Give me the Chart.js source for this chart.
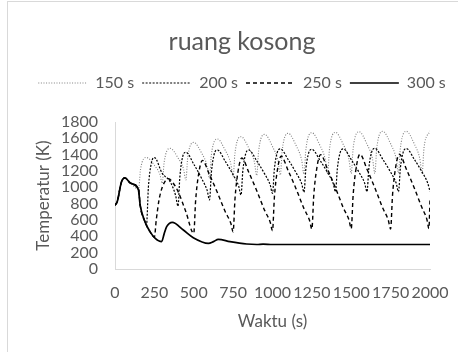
<!DOCTYPE html>
<html>
<head>
<meta charset="utf-8">
<script src="https://cdn.jsdelivr.net/npm/chart.js@4.4.1/dist/chart.umd.min.js"></script>
<style>
  body { margin: 0; background: #fff; }
  #wrap { position: relative; width: 458px; height: 352px; }
  #frame { position: absolute; left: 7px; top: 1px; right: 0; bottom: 0; border-left: 1px solid #d9d9d9; border-top: 1px solid #d9d9d9; }
  #myChart { position: absolute; left: 0; top: 0; }
</style>
</head>
<body>
<div id="wrap">
  <div id="frame"></div>
  <canvas id="myChart" width="458" height="352"></canvas>
</div>
<script>
// DATA (time in s, temperature in K)
const chartTitle = 'ruang kosong';
const seriesNames = ['150 s', '200 s', '250 s', '300 s'];
const xTicks = [0, 250, 500, 750, 1000, 1250, 1500, 1750, 2000];
const yTicks = [0, 200, 400, 600, 800, 1000, 1200, 1400, 1600, 1800];

const time150 = [0, 15, 40, 63, 100, 150, 162, 200, 250, 285, 300, 312, 350, 400, 435, 450,
  462, 500, 550, 585, 600, 612, 650, 700, 735, 750, 762, 800, 850, 885, 900,
  912, 950, 1000, 1035, 1050, 1062, 1100, 1150, 1185, 1200, 1212, 1250, 1300, 1335, 1350,
  1362, 1400, 1450, 1485, 1500, 1512, 1550, 1600, 1635, 1650, 1662, 1700, 1750, 1785, 1800,
  1812, 1850, 1900, 1935, 1950, 1962, 2000];
const temp150 = [780, 830, 1060, 1115, 1050, 975, 1220, 1365, 1270, 1160, 1050, 1306, 1477, 1361, 1225, 1090,
  1367, 1551, 1419, 1264, 1110, 1399, 1592, 1453, 1292, 1130, 1424, 1620, 1478, 1311, 1145,
  1447, 1649, 1499, 1325, 1150, 1457, 1661, 1511, 1335, 1160, 1465, 1669, 1518, 1341, 1165,
  1470, 1673, 1522, 1346, 1170, 1477, 1681, 1528, 1349, 1170, 1480, 1686, 1533, 1354, 1175,
  1482, 1686, 1533, 1354, 1175, 1484, 1690];

const time200 = [0, 15, 40, 63, 100, 150, 160, 190, 200, 212, 230, 250, 300, 350, 385, 400,
  412, 430, 450, 500, 550, 585, 600, 612, 630, 650, 700, 750, 785, 800,
  812, 830, 850, 900, 950, 985, 1000, 1012, 1030, 1050, 1100, 1150, 1185, 1200,
  1212, 1230, 1250, 1300, 1350, 1385, 1400, 1412, 1430, 1450, 1500, 1550, 1585, 1600,
  1612, 1630, 1650, 1700, 1750, 1785, 1800, 1812, 1830, 1850, 1900, 1950, 1985, 2000];
const temp200 = [780, 830, 1060, 1115, 1050, 975, 780, 580, 540, 1000, 1290, 1365, 1170, 1070, 900, 770,
  1133, 1377, 1430, 1284, 1108, 962, 845, 1182, 1408, 1457, 1319, 1154, 1016, 906,
  1209, 1413, 1457, 1324, 1165, 1032, 926, 1225, 1426, 1470, 1338, 1178, 1046, 940,
  1229, 1423, 1465, 1335, 1179, 1049, 945, 1234, 1428, 1470, 1339, 1182, 1052, 947,
  1239, 1435, 1477, 1344, 1185, 1053, 947, 1237, 1432, 1475, 1344, 1186, 1055, 950];

const time250 = [0, 15, 40, 63, 100, 150, 160, 190, 222, 250, 262, 280, 300, 320, 340, 370, 400, 450, 500,
  512, 530, 555, 600, 650, 700, 735, 750, 762, 780, 805, 850, 900, 950, 985, 1000,
  1012, 1030, 1055, 1100, 1150, 1200, 1235, 1250, 1262, 1280, 1305, 1350, 1400, 1450, 1485, 1500,
  1512, 1530, 1555, 1600, 1650, 1700, 1735, 1750, 1762, 1780, 1805, 1850, 1900, 1950, 1980, 1993, 2000];
const temp250 = [780, 830, 1060, 1115, 1050, 975, 780, 580, 457, 390, 600, 850, 1000, 1080, 1105, 1050, 950, 700, 437,
  839, 1151, 1330, 1155, 937, 701, 562, 457, 863, 1179, 1360, 1182, 959, 718, 576, 469,
  879, 1198, 1380, 1202, 980, 739, 597, 490, 900, 1218, 1400, 1219, 993, 748, 604, 495,
  905, 1223, 1405, 1222, 993, 746, 600, 490, 902, 1222, 1405, 1222, 993, 746, 610, 495, 850];

const time300 = [0, 15, 40, 63, 100, 148, 160, 190, 222, 254, 296, 312, 328, 364, 434, 497, 593, 625, 656, 730, 836, 900, 940, 1000, 1250, 1500, 1750, 2000];
const temp300 = [780, 830, 1060, 1115, 1050, 975, 780, 580, 457, 378, 335, 430, 518, 571, 477, 384, 314, 335, 363, 335, 306, 300, 305, 300, 300, 300, 300, 300];

function toPoints(ts, vs) {
    return ts.map(function (t, i) { return { x: t, y: vs[i] }; });
}

const textColor = '#595959';
const fontName = 'Lato';

// push the plot area down below the legend (legend itself stays put)
const legendGap = {
    id: 'legendGap',
    beforeInit: function (chart) {
        const origFit = chart.legend.fit;
        chart.legend.fit = function () {
            origFit.bind(chart.legend)();
            this.height += 21;
        };
    }
};

const myChart = new Chart(document.getElementById('myChart'), {
    type: 'line',
    data: {
        datasets: [{
            label: seriesNames[0],
            data: toPoints(time150, temp150),
            borderColor: '#808080',
            borderWidth: 1.1,
            borderDash: [1, 1.6],
            order: 4
        },
        {
            label: seriesNames[1],
            data: toPoints(time200, temp200),
            borderColor: '#000000',
            borderWidth: 1.2,
            borderDash: [2, 1.5],
            order: 3
        },
        {
            label: seriesNames[2],
            data: toPoints(time250, temp250),
            borderColor: '#000000',
            borderWidth: 1.4,
            borderDash: [4, 3],
            order: 2
        },
        {
            label: seriesNames[3],
            data: toPoints(time300, temp300),
            borderColor: '#000000',
            borderWidth: 1.7,
            order: 1
        }]
    },
    plugins: [legendGap],
    options: {
        responsive: false,
        animation: false,
        devicePixelRatio: 1,
        parsing: false,
        elements: {
            point: { radius: 0 },
            line: { cubicInterpolationMode: 'monotone', fill: false }
        },
        layout: {
            padding: { left: 26, right: 0, top: 0, bottom: 20 }
        },
        plugins: {
            title: {
                display: true,
                text: chartTitle,
                color: textColor,
                font: { family: fontName, size: 25, weight: 'normal' },
                padding: { top: 27, bottom: 10 }
            },
            legend: {
                display: true,
                labels: {
                    color: textColor,
                    font: { family: fontName, size: 16 },
                    usePointStyle: true,
                    pointStyle: 'line',
                    pointStyleWidth: 49,
                    boxWidth: 49,
                    padding: 8,
                    sort: function (a, b) { return a.datasetIndex - b.datasetIndex; },
                    generateLabels: function (chart) {
                        const items = Chart.defaults.plugins.legend.labels.generateLabels(chart);
                        items.forEach(function (item) {
                            const ds = chart.data.datasets[item.datasetIndex];
                            item.lineDash = ds.borderDash || [];
                            item.strokeStyle = ds.borderColor;
                            item.fillStyle = ds.borderColor;
                            item.lineWidth = ds.borderWidth;
                        });
                        return items;
                    }
                }
            },
            tooltip: { enabled: false }
        },
        scales: {
            x: {
                type: 'linear',
                min: xTicks[0],
                max: xTicks[xTicks.length - 1],
                afterBuildTicks: function (axis) {
                    axis.ticks = xTicks.map(function (v) { return { value: v }; });
                },
                afterFit: function (axis) {
                    axis.height = 63;
                    axis.paddingLeft = 0;
                    axis.paddingRight = 28;
                },
                grid: { display: false, drawTicks: false },
                border: { display: true, color: '#d9d9d9', width: 1 },
                ticks: {
                    color: textColor,
                    font: { family: fontName, size: 16 },
                    padding: 14,
                    maxRotation: 0,
                    autoSkip: false,
                    callback: function (v) { return String(v); }
                },
                title: {
                    display: true,
                    text: 'Waktu (s)',
                    color: textColor,
                    font: { family: fontName, size: 17 },
                    padding: { top: 0, bottom: 0 }
                }
            },
            y: {
                min: yTicks[0],
                max: yTicks[yTicks.length - 1],
                afterBuildTicks: function (axis) {
                    axis.ticks = yTicks.map(function (v) { return { value: v }; });
                },
                afterFit: function (axis) {
                    axis.width = 89;
                    axis.paddingTop = 0;
                    axis.paddingBottom = 0;
                },
                grid: { display: false, drawTicks: false },
                border: { display: true, color: '#d9d9d9', width: 1 },
                ticks: {
                    color: textColor,
                    font: { family: fontName, size: 16 },
                    padding: 17,
                    autoSkip: false,
                    callback: function (v) { return String(v); }
                },
                title: {
                    display: true,
                    text: 'Temperatur (K)',
                    color: textColor,
                    font: { family: fontName, size: 17 },
                    padding: { top: 7, bottom: 0 }
                }
            }
        }
    }
});
</script>
</body>
</html>
